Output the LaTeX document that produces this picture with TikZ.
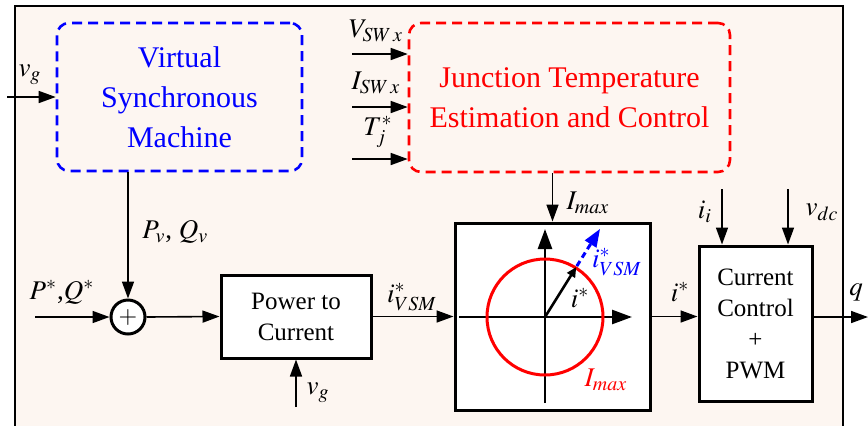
\documentclass[tikz,border=0pt]{standalone}
\usepackage{mathptmx}
\usepackage[no-math]{fontspec}
\setmainfont{Liberation Serif}
\usetikzlibrary{arrows.meta, positioning, calc}
\definecolor{bgBeige}{RGB}{253,246,241}
\definecolor{vsmBlue}{RGB}{0,0,255}
\definecolor{jteRed}{RGB}{255,0,0}

\tikzset{
  sig/.style={-{Triangle[length=8.5pt,width=6pt]}, line width=0.8pt},
  axis/.style={-{Triangle[length=10pt,width=7pt]}, line width=1.3pt},
  blk/.style={draw, line width=1.5pt, fill=white, align=center, inner sep=0pt,
    font=\fontsize{12.5}{15.5}\selectfont},
  dashblk/.style={draw, dashed, dash pattern=on 5pt off 3pt, rounded corners=6pt,
    line width=1.3pt, align=center, font=\fontsize{15}{20}\selectfont},
  lbl/.style={font=\fontsize{13.5}{16}\selectfont, inner sep=0pt},
}

\begin{document}
\begin{tikzpicture}[x=0.5pt, y=-0.5pt]
  \useasboundingbox (0,0) rectangle (868,425);
  % frame
  \fill[bgBeige] (15,6) rectangle (843,432);
  \draw[line width=1pt] (15,432) -- (15,6) -- (843,6) -- (843,432);

  % blocks
  \node[dashblk, draw=vsmBlue, text=vsmBlue, minimum width=122.5pt, minimum height=74pt]
    (vsm) at (179.5,97) {Virtual\\Synchronous\\Machine};
  \node[dashblk, draw=jteRed, text=jteRed, minimum width=160.5pt, minimum height=74.5pt]
    (jte) at (569.5,97.5) {Junction Temperature\\Estimation and Control};
  \node[draw, circle, line width=1.5pt, fill=white, minimum size=17pt, inner sep=0pt,
    font=\fontsize{12}{12}\selectfont] (sum) at (128,317) {$+$};
  \node[blk, minimum width=75pt, minimum height=41.5pt] (pc) at (296,316.5) {Power to\\Current};
  \node[blk, minimum width=97.5pt, minimum height=93.5pt] (cbox) at (552.5,316.5) {};
  \node[blk, minimum width=56.5pt, minimum height=77.5pt] (cc) at (755.5,323.5)
    {Current\\Control\\+\\PWM};

  % free ends
  \coordinate (vgin) at (7,97);
  \coordinate (vsw) at (352,54);
  \coordinate (isw) at (352,107);
  \coordinate (tj) at (352,159);
  \coordinate (pqin) at (35,317);
  \coordinate (vgbot) at (296,407);
  \coordinate (iiin) at (722,189);
  \coordinate (vdcin) at (788,189);
  \coordinate (qout) at (868,317);

  % connectors
  \draw[sig] (vgin) -- (vsm.west);
  \draw[sig] (vsw) -- (vsw -| jte.west);
  \draw[sig] (isw) -- (isw -| jte.west);
  \draw[sig] (tj) -- (tj -| jte.west);
  \draw[sig] (vsm.south -| sum) -- (sum.north);
  \draw[sig] (pqin) -- (sum.west);
  \draw[sig] (sum.east) -- (pc.west);
  \draw[sig] (vgbot) -- (pc.south);
  \draw[sig] (pc.east) -- (cbox.west);
  \draw[sig] (cbox.north |- jte.south) -- (cbox.north);
  \draw[sig] (cbox.east) -- (cc.west |- cbox.east);
  \draw[sig] (iiin) -- (iiin |- cc.north);
  \draw[sig] (vdcin) -- (vdcin |- cc.north);
  \draw[sig] (cc.east |- qout) -- (qout);

  % current limit plane
  \coordinate (o) at (545,317);
  \draw[axis] (459,317) -- (632,317);
  \draw[axis] (545,403) -- (545,229);
  \draw[jteRed, line width=1.5pt] (o) circle[radius=58];
  \draw[line width=1.3pt, -{Triangle[length=5pt,width=4.5pt]}] (o) -- ($(o)+(-58:59)$);
  \draw[vsmBlue, line width=1.5pt, dashed, dash pattern=on 3pt off 2pt,
    -{Triangle[length=9pt,width=6.5pt]}] ($(o)+(-58:60)$) -- ($(o)+(-58:104)$);

  % labels
  \node[lbl] (lvg) at (30,75) {$v_g$};
  \node[lbl] (lvsw) at (376,31) {$V_{SW\,x}$};
  \node[lbl] (lisw) at (376,83) {$I_{SW\,x}$};
  \node[lbl] (ltj) at (378,132) {$T_j^*$};
  \node[lbl, anchor=west] (lpv) at (142,232) {$P_v$, $Q_v$};
  \node[lbl] (lpq) at (62,292) {$P^*$,$Q^*$};
  \node[lbl] (livsm) at (412,297) {$i^*_{VSM}$};
  \node[lbl] (lvgb) at (318,393) {$v_g$};
  \node[lbl] (limax) at (588,203) {$I_{max}$};
  \node[lbl, text=vsmBlue] (livsmb) at (617,262) {$i^*_{VSM}$};
  \node[lbl] (listar) at (580,298) {$i^*$};
  \node[lbl, text=jteRed] (limaxr) at (606,380) {$I_{max}$};
  \node[lbl] (lio) at (680,292) {$i^*$};
  \node[lbl] (lii) at (705,212) {$i_i$};
  \node[lbl] (lvdc) at (822,212) {$v_{dc}$};
  \node[lbl] (lq) at (856,292) {$q$};
\end{tikzpicture}
\end{document}
